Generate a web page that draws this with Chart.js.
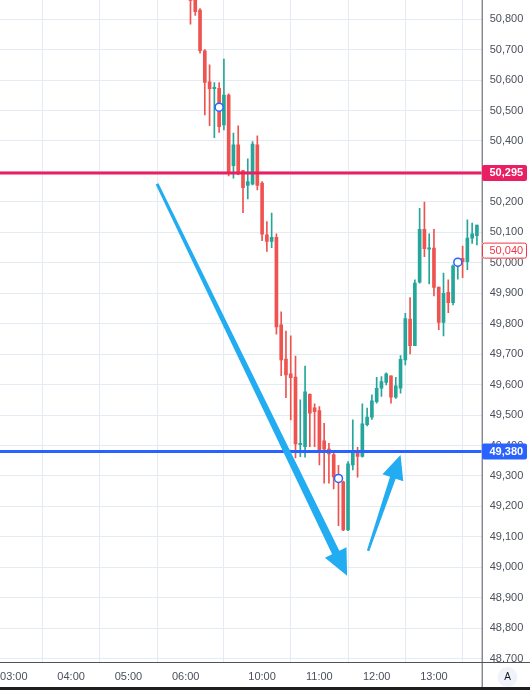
<!DOCTYPE html>
<html>
<head>
<meta charset="utf-8">
<script src="https://cdn.jsdelivr.net/npm/chart.js@4.4.0/dist/chart.umd.min.js"></script>
<style>
  html, body { margin: 0; padding: 0; background: #fff; }
  #wrap { position: relative; width: 530px; height: 690px; }
</style>
</head>
<body>
<div id="wrap"><canvas id="chart"></canvas></div>
<script>
// 5-minute candles (session breaks after 07:15, resumes 10:00)
const times = [
  '06:05','06:10','06:15','06:20','06:25','06:30','06:35','06:40','06:45','06:50','06:55',
  '07:00','07:05','07:10','07:15',
  '10:00','10:05','10:10','10:15','10:20','10:25','10:30','10:35','10:40','10:45','10:50','10:55',
  '11:00','11:05','11:10','11:15','11:20','11:25','11:30','11:35','11:40','11:45','11:50','11:55',
  '12:00','12:05','12:10','12:15','12:20','12:25','12:30','12:35','12:40','12:45','12:50','12:55',
  '13:00','13:05','13:10','13:15','13:20','13:25','13:30','13:35','13:40','13:45'
];
const opens = [
  50890, 50862, 50830, 50696, 50594, 50572, 50573, 50453, 50551, 50319, 50387,
  50303, 50254, 50258, 50387,
  50262, 50092, 50070, 50084, 49796, 49684, 49635, 49625, 49403, 49396, 49568, 49524,
  49515, 49415, 49388, 49370, 49297, 49281, 49123, 49336, 49380, 49364, 49468, 49493,
  49544, 49588, 49607, 49629, 49559, 49588, 49681, 49815, 49728, 49936, 50110, 50045,
  50048, 49920, 49804, 49903, 49869, 49988, 50015, 50004, 50081, 50089
];
const highs = [
  50900, 50870, 50835, 50700, 50650, 50592, 50592, 50669, 50555, 50426, 50450,
  50303, 50341, 50398, 50417,
  50267, 50135, 50163, 50095, 49839, 49776, 49760, 49694, 49550, 49661, 49570, 49537,
  49528, 49473, 49407, 49375, 49335, 49283, 49347, 49484, 49394, 49537, 49523, 49566,
  49624, 49626, 49639, 49629, 49624, 49695, 49834, 49886, 49944, 50179, 50199, 50095,
  50110, 49920, 49966, 49944, 49993, 50002, 50055, 50141, 50130, 50124
];
const lows = [
  50784, 50812, 50688, 50486, 50450, 50411, 50428, 50436, 50285, 50278, 50289,
  50165, 50210, 50256, 50239,
  50073, 50037, 50050, 49766, 49629, 49557, 49484, 49359, 49363, 49362, 49396, 49396,
  49336, 49276, 49276, 49257, 49137, 49120, 49120, 49320, 49296, 49362, 49464, 49486,
  49539, 49561, 49599, 49539, 49555, 49572, 49665, 49701, 49728, 49933, 50020, 49931,
  49891, 49780, 49760, 49836, 49862, 49946, 49951, 49977, 50064, 50059
];
const closes = [
  50862, 50825, 50697, 50592, 50572, 50576, 50447, 50551, 50294, 50387, 50292,
  50247, 50267, 50390, 50254,
  50094, 50070, 50084, 49789, 49681, 49632, 49623, 49405, 49407, 49576, 49506, 49511,
  49383, 49388, 49372, 49297, 49285, 49123, 49340, 49380, 49364, 49471, 49493, 49547,
  49588, 49610, 49635, 49559, 49596, 49683, 49817, 49728, 49933, 50110, 50046, 50049,
  49919, 49804, 49900, 49869, 49990, 49998, 50004, 50081, 50095, 50124
];

const hourTicks = ['03:00', '04:00', '05:00', '06:00', '10:00', '11:00', '12:00', '13:00'];
const priceTicks = [48700, 48800, 48900, 49000, 49100, 49200, 49300, 49400, 49500, 49600, 49700,
  49800, 49900, 50000, 50100, 50200, 50300, 50400, 50500, 50600, 50700, 50800];

// horizontal levels and the last price tag
const levelPrices = [50295, 49380];
const levelColors = ['#e91e63', '#2962ff'];
const lastPrice = 50040;

// small circle markers
const markerTimes = ['06:35', '11:20', '13:25'];
const markerPrices = [50511, 49292, 50002];

// drawn arrows (time, price)
const arrowFromTimes = ['05:30', '11:51'];
const arrowFromPrices = [50259, 49054];
const arrowToTimes = ['11:29', '12:25'];
const arrowToPrices = [48972, 49369];

const UP = '#26a69a';
const DOWN = '#ef5350';
const FONT = '"Liberation Sans", Arial, sans-serif';

// bar index on the time axis; 16 bars are shown between 06:00 and 10:00
function timeToSlot(t) {
  const [h, m] = t.split(':').map(Number);
  const mins = h * 60 + m;
  return mins < 600 ? (mins - 360) / 5 : 16 + (mins - 600) / 5;
}
const fmt = v => v.toLocaleString('en-US');

const candleColors = opens.map((o, i) => closes[i] >= o ? UP : DOWN);

function drawArrow(ctx, sx, sy, tx, ty, w0, w1, headLen, headHalf) {
  const dx = tx - sx, dy = ty - sy, len = Math.hypot(dx, dy);
  const ux = dx / len, uy = dy / len, nx = -uy, ny = ux;
  const bx = tx - ux * headLen, by = ty - uy * headLen;
  ctx.beginPath();
  ctx.moveTo(sx + nx * w0 / 2, sy + ny * w0 / 2);
  ctx.lineTo(bx + nx * w1 / 2, by + ny * w1 / 2);
  ctx.lineTo(bx + nx * headHalf, by + ny * headHalf);
  ctx.lineTo(tx, ty);
  ctx.lineTo(bx - nx * headHalf, by - ny * headHalf);
  ctx.lineTo(bx - nx * w1 / 2, by - ny * w1 / 2);
  ctx.lineTo(sx - nx * w0 / 2, sy - ny * w0 / 2);
  ctx.closePath();
  ctx.fill();
}

function priceTag(ctx, py, text, fill, stroke, color, bold) {
  const x0 = 482, w = 45, h = 16;
  ctx.beginPath();
  ctx.roundRect(x0, py - h / 2, w, h, 2);
  ctx.fillStyle = fill;
  ctx.fill();
  if (stroke) {
    ctx.lineWidth = 1;
    ctx.strokeStyle = stroke;
    ctx.beginPath();
    ctx.roundRect(x0 + 0.5, py - h / 2 + 0.5, w - 1, h - 1, 2);
    ctx.stroke();
  }
  ctx.fillStyle = color;
  ctx.font = (bold ? 'bold ' : '') + '11px ' + FONT;
  ctx.textAlign = 'left';
  ctx.textBaseline = 'middle';
  ctx.fillText(text, 489.5, py + 0.5);
}

const overlay = {
  id: 'overlay',
  afterDatasetsDraw(chart) {
    const { ctx, chartArea: a, scales: { x, y } } = chart;
    ctx.save();
    ctx.beginPath();
    ctx.rect(a.left, a.top, a.right - a.left, a.bottom - a.top);
    ctx.clip();
    levelPrices.forEach((p, i) => {
      const py = y.getPixelForValue(p);
      ctx.strokeStyle = levelColors[i];
      ctx.lineWidth = 3;
      ctx.beginPath();
      ctx.moveTo(a.left, py);
      ctx.lineTo(a.right, py);
      ctx.stroke();
    });
    ctx.fillStyle = '#22acf2';
    const sizes = [[3, 8, 26, 12], [2.5, 6, 24, 11]];
    arrowFromTimes.forEach((t, i) => {
      const s = sizes[i];
      drawArrow(ctx,
        x.getPixelForValue(timeToSlot(t)), y.getPixelForValue(arrowFromPrices[i]),
        x.getPixelForValue(timeToSlot(arrowToTimes[i])), y.getPixelForValue(arrowToPrices[i]),
        s[0], s[1], s[2], s[3]);
    });
    ctx.restore();
  },
  afterDraw(chart) {
    const { ctx, chartArea: a, scales: { y } } = chart;
    const W = chart.width, H = chart.height;
    ctx.save();
    // hide the lower half of the bottom price label
    ctx.fillStyle = '#fff';
    ctx.fillRect(a.right, a.bottom, W - a.right, H - a.bottom);
    // axis borders
    ctx.strokeStyle = '#50535e';
    ctx.lineWidth = 1;
    ctx.beginPath();
    ctx.moveTo(0, a.bottom + 0.5);
    ctx.lineTo(W, a.bottom + 0.5);
    ctx.moveTo(a.right + 0.5, 0);
    ctx.lineTo(a.right + 0.5, H);
    ctx.stroke();
    // price tags
    levelPrices.forEach((p, i) => {
      priceTag(ctx, y.getPixelForValue(p), fmt(p), levelColors[i], null, '#fff', true);
    });
    priceTag(ctx, y.getPixelForValue(lastPrice), fmt(lastPrice), '#fff', '#f23645', '#f23645', false);
    // auto-scale button
    ctx.beginPath();
    ctx.arc(507.5, 677, 10, 0, Math.PI * 2);
    ctx.fillStyle = '#f0f3fa';
    ctx.fill();
    ctx.fillStyle = '#131722';
    ctx.font = '10px ' + FONT;
    ctx.textAlign = 'center';
    ctx.textBaseline = 'middle';
    ctx.fillText('A', 507.5, 677.5);
    // bottom edge
    ctx.fillStyle = '#1e1e1e';
    ctx.fillRect(0, H - 3, W, 3);
    ctx.restore();
  }
};

const slots = times.map(timeToSlot);

new Chart(document.getElementById('chart'), {
  type: 'bar',
  data: {
    datasets: [
      {
        label: 'markers',
        type: 'scatter',
        data: markerTimes.map((t, i) => ({ x: timeToSlot(t), y: markerPrices[i] })),
        pointRadius: 4,
        pointBorderWidth: 1.5,
        pointBorderColor: '#2962ff',
        pointBackgroundColor: '#fff',
        order: 0
      },
      {
        label: 'bodies',
        data: slots.map((s, i) => ({ x: s, y: [opens[i], closes[i]] })),
        backgroundColor: candleColors,
        barThickness: 3,
        minBarLength: 1,
        grouped: false,
        order: 1
      },
      {
        label: 'wicks',
        data: slots.map((s, i) => ({ x: s, y: [lows[i], highs[i]] })),
        backgroundColor: candleColors,
        barThickness: 1,
        grouped: false,
        order: 2
      }
    ]
  },
  options: {
    responsive: true,
    maintainAspectRatio: false,
    animation: false,
    layout: { padding: 0, autoPadding: false },
    plugins: { legend: { display: false }, tooltip: { enabled: false } },
    scales: {
      x: {
        type: 'linear',
        min: -38.9,
        max: 62,
        offset: false,
        border: { display: false },
        grid: { color: '#e4ebf2', drawTicks: false },
        afterBuildTicks: s => { s.ticks = hourTicks.map(t => ({ value: timeToSlot(t) })); },
        afterFit: s => { s.height = 28; s.paddingLeft = 0; s.paddingRight = 0; },
        ticks: {
          autoSkip: false,
          maxRotation: 0,
          padding: 8,
          color: '#4a4f5a',
          font: { family: FONT, size: 11 },
          callback: v => hourTicks.find(t => timeToSlot(t) === v) || ''
        }
      },
      y: {
        type: 'linear',
        position: 'right',
        min: 48689,
        max: 50863,
        border: { display: false },
        grid: { color: '#e4ebf2', drawTicks: false },
        afterBuildTicks: s => { s.ticks = priceTicks.map(v => ({ value: v })); },
        afterFit: s => { s.width = 48.3; s.paddingTop = 0; s.paddingBottom = 0; },
        ticks: {
          padding: 8,
          color: '#4a4f5a',
          font: { family: FONT, size: 11 },
          callback: v => fmt(v)
        }
      }
    }
  },
  plugins: [overlay]
});
</script>
</body>
</html>
